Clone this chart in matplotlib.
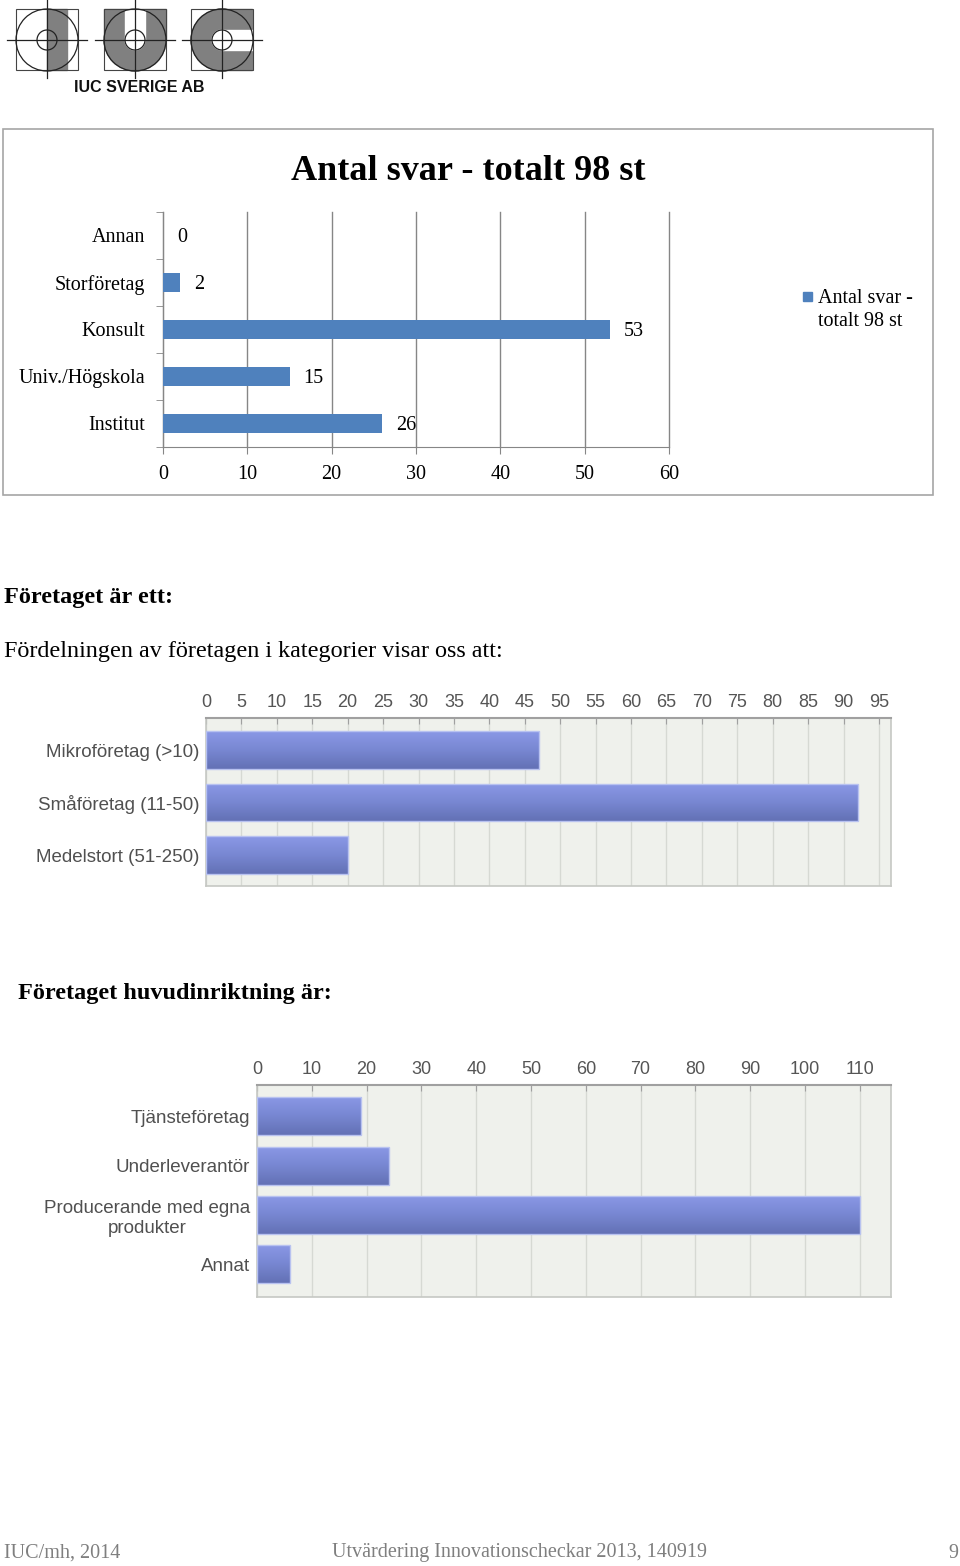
import numpy as np
import matplotlib
matplotlib.use("Agg")
import matplotlib.pyplot as plt
from matplotlib.patches import Rectangle, Circle, Wedge
from matplotlib.colors import LinearSegmentedColormap

# ---------------- data ----------------
c1_title = "Antal svar - totalt 98 st"
c1_categories = ["Annan", "Storföretag", "Konsult", "Univ./Högskola", "Institut"]
c1_values = [0, 2, 53, 15, 26]
c1_ticks = [0, 10, 20, 30, 40, 50, 60]
c1_legend = "Antal svar -\ntotalt 98 st"

c2_categories = ["Mikroföretag (>10)", "Småföretag (11-50)", "Medelstort (51-250)"]
c2_values = [47, 92, 20]
c2_ticks = list(range(0, 100, 5))

c3_categories = ["Tjänsteföretag", "Underleverantör", "Producerande med egna\nprodukter", "Annat"]
c3_values = [19, 24, 110, 6]
c3_ticks = list(range(0, 120, 10))

heading1 = "Företaget är ett:"
subtext1 = "Fördelningen av företagen i kategorier visar oss att:"
heading2 = "Företaget huvudinriktning är:"
footer_left = "IUC/mh, 2014"
footer_mid = "Utvärdering Innovationscheckar 2013, 140919"
footer_right = "9"
logo_text = "IUC SVERIGE AB"

# ---------------- figure ----------------
W, H = 960, 1566
fig = plt.figure(figsize=(W / 100, H / 100), dpi=100)
fig.patch.set_facecolor("white")

def px_axes(x0, y0, x1, y1, **kw):
    return fig.add_axes([x0 / W, 1 - y1 / H, (x1 - x0) / W, (y1 - y0) / H], **kw)

SERIF = "Liberation Serif"
SANS = "Liberation Sans"

# overlay for decorations
ov = px_axes(0, 0, W, H)
ov.set_xlim(0, W)
ov.set_ylim(H, 0)
ov.axis("off")
ov.set_zorder(-1)

# ---- logo ----
GRAY = "#808080"
def logo_frame(cx, cy):
    ov.add_patch(Rectangle((cx - 31, cy - 31), 62, 61, fill=False, ec="#444444", lw=0.8, zorder=5))
    ov.add_patch(Circle((cx, cy), 31, fill=False, ec="#222222", lw=0.9, zorder=5))
    ov.add_patch(Circle((cx, cy), 10, fill=False, ec="#222222", lw=0.9, zorder=5))
    ov.plot([cx - 40, cx + 40], [cy, cy], color="#222222", lw=0.9, zorder=6)
    ov.plot([cx, cx], [cy - 40, cy + 38], color="#222222", lw=0.9, zorder=6)

# I
cx, cy = 47, 40
ov.add_patch(Rectangle((cx, cy - 31), 20, 61, color=GRAY, zorder=2))
logo_frame(cx, cy)
# U
cx, cy = 135, 40
ov.add_patch(Rectangle((cx - 31, cy - 31), 62, 31, color=GRAY, zorder=2))
ov.add_patch(Wedge((cx, cy), 31, 0, 180, color=GRAY, zorder=2))
ov.add_patch(Rectangle((cx - 10, cy - 31), 20, 31, color="white", zorder=3))
ov.add_patch(Circle((cx, cy), 10, color="white", zorder=3))
logo_frame(cx, cy)
# C
cx, cy = 222, 40
ov.add_patch(Rectangle((cx, cy - 31), 30, 61, color=GRAY, zorder=2))
ov.add_patch(Circle((cx, cy), 31, color=GRAY, zorder=2))
ov.add_patch(Rectangle((cx, cy - 10), 31, 20, color="white", zorder=3))
ov.add_patch(Circle((cx, cy), 10, color="white", zorder=3))
logo_frame(cx, cy)
ov.text(139, 87, logo_text, ha="center", va="center", fontsize=11.5,
        fontweight="bold", family=SANS, color="#111111")

# ---- chart 1 frame, title, legend ----
ov.add_patch(Rectangle((3, 129), 930, 366, fill=False, ec="#a6a6a6", lw=1.2))
ov.text(468, 171, c1_title, ha="center", va="center", fontsize=26,
        fontweight="bold", family=SERIF, color="black")
BLUE = "#4f81bd"
ov.add_patch(Rectangle((803, 292), 9, 9, color=BLUE))
ov.text(818, 310, c1_legend, ha="left", va="center", fontsize=14.5,
        family=SERIF, color="black", linespacing=1.35)

# ---- texts ----
ov.text(4, 597, heading1, ha="left", va="center", fontsize=17.5, fontweight="bold", family=SERIF)
ov.text(4, 652, subtext1, ha="left", va="center", fontsize=17.4, family=SERIF)
ov.text(18, 994, heading2, ha="left", va="center", fontsize=17.5, fontweight="bold", family=SERIF)
ov.text(4, 1553, footer_left, ha="left", va="center", fontsize=14.5, family=SERIF, color="#7f7f7f")
ov.text(520, 1553, footer_mid, ha="center", va="center", fontsize=14.5, family=SERIF, color="#7f7f7f")
ov.text(958, 1553, footer_right, ha="right", va="center", fontsize=14.5, family=SERIF, color="#7f7f7f")

# ---------------- chart 1 ----------------
ax1 = px_axes(163, 212, 669, 447)
y1 = np.arange(len(c1_categories))
bars1 = ax1.barh(y1, c1_values, height=0.4, color=BLUE, zorder=3)
ax1.set_xlim(0, 60)
ax1.set_ylim(len(c1_categories) - 0.5, -0.5)
ax1.set_xticks(c1_ticks)
ax1.set_xticklabels([str(t) for t in c1_ticks], family=SERIF, fontsize=14.5)
ax1.set_yticks(y1)
ax1.set_yticklabels(c1_categories, family=SERIF, fontsize=14.5)
ax1.set_yticks(np.arange(len(c1_categories) + 1) - 0.5, minor=True)
ax1.tick_params(axis="y", which="major", length=0, pad=13)
ax1.tick_params(axis="y", which="minor", length=5, color="#868686", direction="out")
ax1.tick_params(axis="x", which="major", length=5, color="#868686", direction="out", pad=8)
ax1.grid(axis="x", color="#868686", lw=1.0, zorder=0)
for gl in ax1.get_xgridlines():
    gl.set_clip_on(False)
for s in ["top", "right"]:
    ax1.spines[s].set_visible(False)
for s in ["left", "bottom"]:
    ax1.spines[s].set_color("#868686")
ax1.set_facecolor("none")
for b, v in zip(bars1, c1_values):
    ax1.annotate(str(v), (b.get_width(), b.get_y() + b.get_height() / 2),
                 xytext=(10, -1.5), textcoords="offset points", ha="left", va="center",
                 family=SERIF, fontsize=14.5)

# ---------------- gradient bar helper ----------------
cmap = LinearSegmentedColormap.from_list("g", ["#8a98e6", "#7887d2", "#6371b5"])
grad = np.linspace(0, 1, 64).reshape(-1, 1)

def styled_chart(ax, cats, vals, ticks, xmax, ylim, bh):
    y = np.arange(len(cats))
    bars = ax.barh(y, vals, height=bh, color="none", ec="#b8c2f0", lw=1.0, zorder=4)
    for b in bars:
        x0, yb, w, h = b.get_x(), b.get_y(), b.get_width(), b.get_height()
        im = ax.imshow(grad, cmap=cmap, extent=(x0, x0 + w, yb + h, yb), origin="upper",
                       aspect="auto", zorder=3, interpolation="bilinear")
        im.set_clip_path(b)
    ax.set_xlim(0, xmax)
    ax.set_ylim(*ylim)
    ax.set_facecolor("#eff1ec")
    ax.xaxis.tick_top()
    ax.set_xticks(ticks)
    ax.set_xticklabels([str(t) for t in ticks], family=SANS, fontsize=13, color="#555555")
    ax.tick_params(axis="x", length=4, color="#a0a0a0", direction="in", pad=5)
    ax.set_yticks(y)
    ax.set_yticklabels(cats, family=SANS, fontsize=13.5, color="#505050", multialignment="center")
    ax.tick_params(axis="y", length=0, pad=5)
    ax.grid(axis="x", color="#d6d9d3", lw=1.0, zorder=1)
    ax.set_axisbelow(True)
    for s in ["left", "right", "bottom"]:
        ax.spines[s].set_color("#c6c8c4")
        ax.spines[s].set_linewidth(1.2)
    ax.spines["top"].set_color("#a0a0a0")
    ax.spines["top"].set_linewidth(1.5)

# ---------------- chart 2 ----------------
ax2 = px_axes(206, 718, 891, 886)
styled_chart(ax2, c2_categories, c2_values, c2_ticks, 96.7, (2.59, -0.61), 0.72)

# ---------------- chart 3 ----------------
ax3 = px_axes(257, 1085, 891, 1297)
styled_chart(ax3, c3_categories, c3_values, c3_ticks, 115.7, (3.66, -0.63), 0.77)

fig.savefig("out.png", dpi=100, facecolor="white")
